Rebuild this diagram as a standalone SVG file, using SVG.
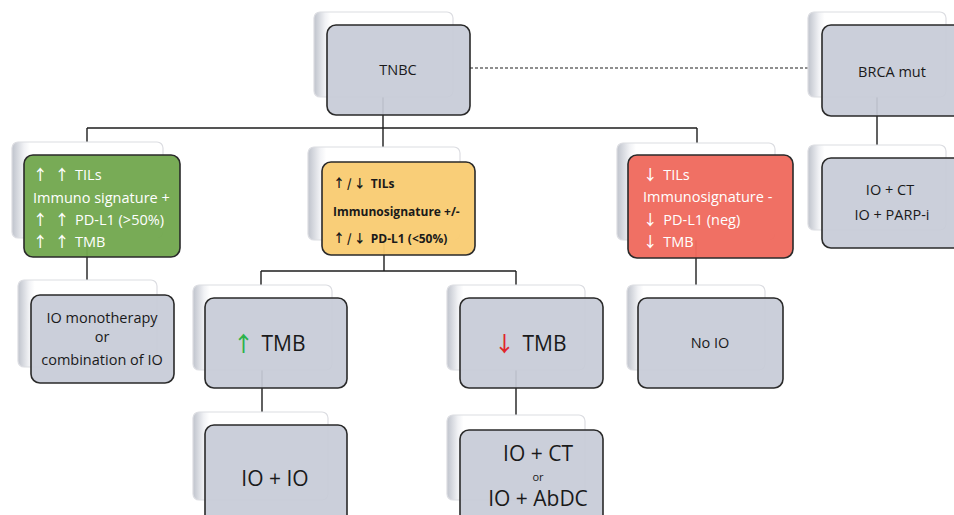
<svg xmlns="http://www.w3.org/2000/svg" width="954" height="515" viewBox="0 0 954 515">
<defs>
<linearGradient id="cardGrad" x1="0" y1="0" x2="1" y2="0">
<stop offset="0" stop-color="#bfc3cc"/>
<stop offset="0.08" stop-color="#f1f2f5"/>
<stop offset="0.12" stop-color="#ffffff"/>
<stop offset="1" stop-color="#ffffff"/>
</linearGradient>
</defs>
<style>
.back{fill:url(#cardGrad);stroke:#dcdde2;stroke-width:1.2}
.front{stroke:#2a2a2a;stroke-width:1.6}
.grey{fill:#c7cbd7;fill-opacity:0.93}
.green{fill:#72a84f;fill-opacity:0.96}
.yellow{fill:#f9cc72;fill-opacity:0.96}
.red{fill:#ef6a5e;fill-opacity:0.96}
.conn{stroke:#1e1e1e;stroke-width:1.4;fill:none}
.dash{stroke:#1e1e1e;stroke-width:1.2;stroke-dasharray:3 2;fill:none}
text{font-family:"Open Sans","Noto Sans","DejaVu Sans",sans-serif;fill:#1a1a1a;font-weight:500}
.ar{font-family:"Noto Sans CJK JP","DejaVu Sans",sans-serif;font-size:1em;letter-spacing:2px}
.c{text-anchor:middle}
.m{font-size:14.5px}
.w{fill:#ffffff;font-size:14.5px}
.b{font-weight:bold;font-size:12px}
.big{font-size:21px}
.sm{font-size:11px}
</style>
<rect width="954" height="515" fill="#ffffff"/>
<g id="connectors">
<path class="conn" d="M383 97V128M87 128H697M87 128V142M383 128V147M697 128V145"/>
<path class="conn" d="M87 238V280"/>
<path class="conn" d="M384 240V271M261 271H516M261 271V285M516 271V285"/>
<path class="conn" d="M262 370V412M516 370V415"/>
<path class="conn" d="M696 240V285"/>
<path class="conn" d="M877 97V145"/>
<path class="dash" d="M470 68H822"/>
</g>
<g id="tnbc">
<rect class="back" x="314" y="12" width="139" height="85" rx="6"/>
<rect class="front grey" x="327" y="25" width="143" height="90" rx="9"/>
<text class="m c" x="398" y="75">TNBC</text>
</g>
<g id="brca">
<rect class="back" x="808" y="12" width="138" height="85" rx="6"/>
<rect class="front grey" x="822" y="25" width="145" height="91" rx="9"/>
<text class="m c" x="892" y="77">BRCA mut</text>
</g>
<g id="high">
<rect class="back" x="12" y="142" width="151" height="96" rx="6"/>
<rect class="front green" x="24" y="155" width="156" height="102" rx="9"/>
<text class="w" x="33" y="180"><tspan class="ar">↑ ↑</tspan>  TILs</text>
<text class="w" x="33" y="203">Immuno signature +</text>
<text class="w" x="33" y="225"><tspan class="ar">↑ ↑</tspan> PD-L1 (&gt;50%)</text>
<text class="w" x="33" y="247"><tspan class="ar">↑ ↑</tspan>  TMB</text>
</g>
<g id="mid">
<rect class="back" x="308" y="147" width="152" height="93" rx="6"/>
<rect class="front yellow" x="322" y="162" width="153" height="93" rx="9"/>
<text class="b" x="333" y="188"><tspan class="ar">↑/↓</tspan>  TILs</text>
<text class="b" x="333" y="216">Immunosignature +/-</text>
<text class="b" x="333" y="243"><tspan class="ar">↑/↓</tspan> PD-L1 (&lt;50%)</text>
</g>
<g id="low">
<rect class="back" x="617" y="143" width="158" height="97" rx="6"/>
<rect class="front red" x="628" y="155" width="165" height="103" rx="9"/>
<text class="w" x="643" y="180"><tspan class="ar">↓</tspan>  TILs</text>
<text class="w" x="643" y="202">Immunosignature -</text>
<text class="w" x="643" y="225"><tspan class="ar">↓</tspan> PD-L1 (neg)</text>
<text class="w" x="643" y="247"><tspan class="ar">↓</tspan> TMB</text>
</g>
<g id="parp">
<rect class="back" x="808" y="145" width="138" height="85" rx="6"/>
<rect class="front grey" x="822" y="158" width="145" height="90" rx="9"/>
<text class="m c" x="890" y="195">IO + CT</text>
<text class="m c" x="892" y="220">IO + PARP-i</text>
</g>
<g id="mono">
<rect class="back" x="18" y="280" width="139" height="87" rx="6"/>
<rect class="front grey" x="31" y="295" width="143" height="88" rx="9"/>
<text class="m c" x="102" y="323">IO monotherapy</text>
<text class="m c" x="102" y="342">or</text>
<text class="m c" x="102" y="365">combination of IO</text>
</g>
<g id="hightmb">
<rect class="back" x="193" y="285" width="139" height="85" rx="6"/>
<rect class="front grey" x="205" y="298" width="142" height="90" rx="9"/>
<text class="big" x="233" y="351"><tspan class="ar" fill="#2bb34a">↑</tspan> TMB</text>
</g>
<g id="lowtmb">
<rect class="back" x="447" y="285" width="138" height="85" rx="6"/>
<rect class="front grey" x="460" y="298" width="143" height="90" rx="9"/>
<text class="big" x="494" y="351"><tspan class="ar" fill="#e0242b">↓</tspan>  TMB</text>
</g>
<g id="noio">
<rect class="back" x="627" y="285" width="138" height="85" rx="6"/>
<rect class="front grey" x="638" y="298" width="145" height="90" rx="9"/>
<text class="m c" x="710" y="348">No IO</text>
</g>
<g id="ioio">
<rect class="back" x="193" y="412" width="135" height="88" rx="6"/>
<rect class="front grey" x="205" y="425" width="142" height="105" rx="9"/>
<text class="big c" x="275" y="486">IO + IO</text>
</g>
<g id="ioct">
<rect class="back" x="447" y="415" width="138" height="85" rx="6"/>
<rect class="front grey" x="460" y="430" width="143" height="100" rx="9"/>
<text class="big c" x="538" y="461">IO + CT</text>
<text class="sm c" x="538" y="481">or</text>
<text class="big c" x="538" y="506">IO + AbDC</text>
</g>
</svg>
